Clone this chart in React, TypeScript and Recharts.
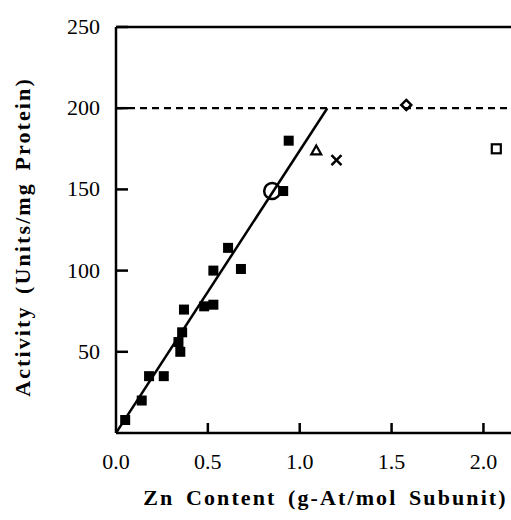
import React from "react";
import {
  ScatterChart,
  Scatter,
  XAxis,
  YAxis,
  ReferenceLine,
  Label,
} from "recharts";

// filled squares: Zn content vs activity
const zincContent = [0.05, 0.14, 0.18, 0.26, 0.34, 0.35, 0.36, 0.37, 0.48, 0.53, 0.53, 0.61, 0.68, 0.91, 0.94];
const activity = [8, 20, 35, 35, 56, 50, 62, 76, 78, 79, 100, 114, 101, 149, 180];

// open markers
const circlePoint = [{ x: 0.85, y: 149 }];
const trianglePoint = [{ x: 1.09, y: 174 }];
const crossPoint = [{ x: 1.2, y: 168 }];
const diamondPoint = [{ x: 1.58, y: 202 }];
const openSquarePoint = [{ x: 2.07, y: 175 }];

// linear fit through the origin
const fitX = [0, 1.15];
const fitY = [0, 200];

const plateau = 200;
const xTicks = [0, 0.5, 1, 1.5, 2];
const yTicks = [50, 100, 150, 200, 250];

const squares = zincContent.map((x, i) => ({ x, y: activity[i] }));
const fitLine = fitX.map((x, i) => ({ x, y: fitY[i] }));

const FONT = "'Liberation Serif', 'Times New Roman', serif";
const PLOT_LEFT = 116;
const PLOT_BOTTOM = 433;

const titleStyle = {
  fontFamily: FONT,
  fontSize: 22,
  fontWeight: "bold" as const,
  fill: "#000",
  letterSpacing: 2.1,
  wordSpacing: 4,
};

function YTick(props: any) {
  const { y, payload } = props;
  return (
    <g>
      <line x1={PLOT_LEFT} x2={PLOT_LEFT + 12} y1={y} y2={y} stroke="#000" strokeWidth={2.5} />
      <text x={PLOT_LEFT - 16} y={y + 7} textAnchor="end" fontFamily={FONT} fontSize={22} fill="#000">
        {payload.value}
      </text>
    </g>
  );
}

function XTick(props: any) {
  const { x, payload } = props;
  return (
    <g>
      {payload.value > 0 && (
        <line x1={x} x2={x} y1={PLOT_BOTTOM} y2={PLOT_BOTTOM - 10} stroke="#000" strokeWidth={2.5} />
      )}
      <text x={x} y={PLOT_BOTTOM + 36} textAnchor="middle" fontFamily={FONT} fontSize={22} fill="#000">
        {payload.value.toFixed(1)}
      </text>
    </g>
  );
}

function XTitle(props: any) {
  const vb = props.viewBox;
  const cx = vb.x + vb.width / 2 + 12;
  return (
    <text x={cx} y={vb.y + 72} textAnchor="middle" style={titleStyle}>
      Zn Content (g-At/mol Subunit)
    </text>
  );
}

function YTitle(props: any) {
  const vb = props.viewBox;
  const cy = vb.y + vb.height / 2 + 7;
  const bx = 30;
  return (
    <text x={bx} y={cy} textAnchor="middle" transform={`rotate(-90, ${bx}, ${cy})`} style={titleStyle}>
      Activity (Units/mg Protein)
    </text>
  );
}

const FilledSquare = (p: any) => (
  <rect x={p.cx - 5} y={p.cy - 5} width={10} height={10} fill="#000" />
);
const OpenCircle = (p: any) => (
  <circle cx={p.cx} cy={p.cy} r={8} fill="none" stroke="#000" strokeWidth={2.5} />
);
const OpenTriangle = (p: any) => (
  <path d={`M${p.cx},${p.cy - 5} L${p.cx + 5},${p.cy + 4} L${p.cx - 5},${p.cy + 4} Z`} fill="none" stroke="#000" strokeWidth={2.2} />
);
const Cross = (p: any) => (
  <path d={`M${p.cx - 5},${p.cy - 5} L${p.cx + 5},${p.cy + 5} M${p.cx + 5},${p.cy - 5} L${p.cx - 5},${p.cy + 5}`} stroke="#000" strokeWidth={2.5} />
);
const OpenDiamond = (p: any) => (
  <path d={`M${p.cx},${p.cy - 5} L${p.cx + 5},${p.cy} L${p.cx},${p.cy + 5} L${p.cx - 5},${p.cy} Z`} fill="none" stroke="#000" strokeWidth={2.5} />
);
const OpenSquare = (p: any) => (
  <rect x={p.cx - 4.5} y={p.cy - 4.5} width={9} height={9} fill="none" stroke="#000" strokeWidth={2.2} />
);
const NoDot = () => <g />;

export default function App() {
  return (
    <div style={{ position: "absolute", left: 0, top: 0, width: 511, height: 520, background: "#fff" }}>
      <ScatterChart width={511} height={520} margin={{ top: 27, right: 0, bottom: 0, left: 0 }}>
        <XAxis
          type="number"
          dataKey="x"
          domain={[0, 2.15]}
          ticks={xTicks}
          tick={<XTick />}
          tickLine={false}
          axisLine={{ stroke: "#000", strokeWidth: 2.5 }}
          height={87}
          allowDataOverflow
        >
          <Label content={XTitle} />
        </XAxis>
        <YAxis
          type="number"
          dataKey="y"
          domain={[0, 250]}
          ticks={yTicks}
          tick={<YTick />}
          tickLine={false}
          axisLine={{ stroke: "#000", strokeWidth: 2.5 }}
          width={116}
          allowDataOverflow
        >
          <Label content={YTitle} />
        </YAxis>
        <ReferenceLine y={250} stroke="#000" strokeWidth={2.5} />
        <ReferenceLine y={plateau} stroke="#000" strokeWidth={2.2} strokeDasharray="7 5" />
        <Scatter data={fitLine} line={{ stroke: "#000", strokeWidth: 2.5 }} shape={NoDot} isAnimationActive={false} />
        <Scatter data={squares} shape={FilledSquare} isAnimationActive={false} />
        <Scatter data={circlePoint} shape={OpenCircle} isAnimationActive={false} />
        <Scatter data={trianglePoint} shape={OpenTriangle} isAnimationActive={false} />
        <Scatter data={crossPoint} shape={Cross} isAnimationActive={false} />
        <Scatter data={diamondPoint} shape={OpenDiamond} isAnimationActive={false} />
        <Scatter data={openSquarePoint} shape={OpenSquare} isAnimationActive={false} />
      </ScatterChart>
    </div>
  );
}
